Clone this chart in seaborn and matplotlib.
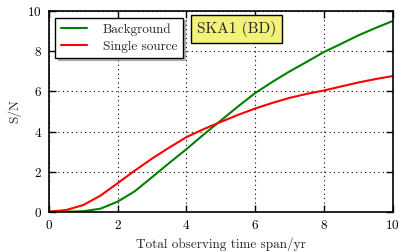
import matplotlib
matplotlib.use("Agg")
import matplotlib.pyplot as plt
import numpy as np
import seaborn as sns

# time span (yr) and S/N
years = [0, 0.5, 1, 1.5, 2, 2.5, 3, 3.5, 4, 4.5, 5, 5.5, 6, 6.5, 7, 7.5, 8, 8.5, 9, 9.5, 10]
snr_background = [0, 0.0, 0.02, 0.15, 0.5, 1.02, 1.72, 2.43, 3.12, 3.85, 4.55, 5.25, 5.92, 6.48, 7.0, 7.48, 7.97, 8.38, 8.8, 9.17, 9.52]
snr_single = [0, 0.08, 0.33, 0.8, 1.42, 2.05, 2.65, 3.2, 3.72, 4.12, 4.48, 4.83, 5.15, 5.43, 5.68, 5.88, 6.05, 6.25, 6.45, 6.62, 6.77]

sns.set_style("ticks")
plt.rcParams['font.family'] = ['cmr10', 'DejaVu Serif']
plt.rcParams['axes.formatter.use_mathtext'] = True
plt.rcParams['mathtext.fontset'] = 'cm'

fig, ax = plt.subplots(figsize=(4.07, 2.52), dpi=100)

sns.lineplot(x=years, y=snr_background, color='green', lw=1.5, label='Background', ax=ax)
sns.lineplot(x=years, y=snr_single, color='red', lw=1.5, label='Single source', ax=ax)

ax.set_xlim(0, 10)
ax.set_ylim(0, 10)
ax.set_xticks([0, 2, 4, 6, 8, 10])
ax.set_yticks([0, 2, 4, 6, 8, 10])
ax.grid(True, linestyle=(0, (1, 3)), color='black', linewidth=0.8)
ax.tick_params(direction='in', length=5, width=1, top=True, right=True, labelsize=9.5, pad=5, colors='black')
for s in ax.spines.values():
    s.set_linewidth(1.2)
    s.set_color('black')

ax.set_xlabel('Total observing time span/yr', fontsize=9.5)
ax.set_ylabel('S/N', fontsize=9.5)

leg = ax.legend(loc='upper left', fontsize=9.5, fancybox=False,
                shadow=dict(ox=1.5, oy=-1.5, color='gray', alpha=0.5),
                framealpha=1, edgecolor='black', handlelength=2.0, borderaxespad=0.5,
                labelspacing=0.35, handletextpad=1.2)
leg.get_frame().set_linewidth(1.0)

ax.text(0.43, 0.95, 'SKA1 (BD)', transform=ax.transAxes, fontsize=11, va='top', ha='left',
        bbox=dict(boxstyle='square,pad=0.4', facecolor='#f2f27a', edgecolor='black', linewidth=1.0))

fig.subplots_adjust(left=0.12, right=0.965, top=0.955, bottom=0.16)
fig.savefig('out.png', dpi=100)
